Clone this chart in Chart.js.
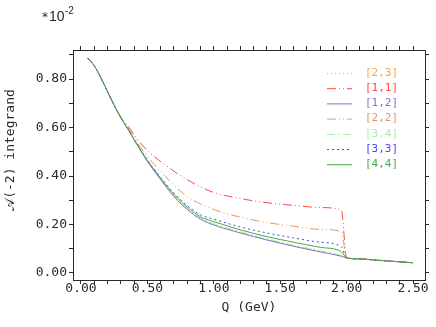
<!DOCTYPE html>
<html>
<head>
<meta charset="utf-8">
<script src="https://cdn.jsdelivr.net/npm/chart.js@4.4.1/dist/chart.umd.min.js"></script>
<style>
  html, body { margin: 0; padding: 0; background: #fff; }
  #wrap { width: 436px; height: 327px; }
</style>
</head>
<body>
<div id="wrap"><canvas id="chart"></canvas></div>
<script>
// Q (GeV) sample points
const qValues = [0.05, 0.10, 0.15, 0.20, 0.25, 0.30, 0.35, 0.40, 0.50, 0.60, 0.70, 0.80, 0.90, 1.00, 1.20, 1.40, 1.60, 1.80, 1.96, 2.00, 2.10, 2.20, 2.30, 2.40, 2.50]

// integrand values (units of 10^-2)
const s23 = [0.887, 0.855, 0.805, 0.748, 0.692, 0.640, 0.597, 0.550, 0.462, 0.388, 0.318, 0.265, 0.225, 0.201, 0.168, 0.139, 0.113, 0.090, 0.071, 0.062, 0.058, 0.054, 0.050, 0.046, 0.042]
const s11 = [0.887, 0.855, 0.805, 0.748, 0.692, 0.645, 0.610, 0.570, 0.505, 0.460, 0.420, 0.385, 0.355, 0.332, 0.307, 0.290, 0.279, 0.270, 0.260, 0.062, 0.058, 0.054, 0.050, 0.046, 0.042]
const s12 = [0.887, 0.855, 0.805, 0.748, 0.692, 0.640, 0.597, 0.550, 0.460, 0.385, 0.315, 0.262, 0.222, 0.198, 0.165, 0.136, 0.110, 0.087, 0.069, 0.062, 0.058, 0.054, 0.050, 0.046, 0.042]
const s22 = [0.887, 0.855, 0.805, 0.748, 0.692, 0.642, 0.603, 0.560, 0.480, 0.420, 0.362, 0.315, 0.285, 0.262, 0.230, 0.208, 0.193, 0.180, 0.170, 0.062, 0.058, 0.054, 0.050, 0.046, 0.042]
const s34 = [0.887, 0.855, 0.805, 0.748, 0.692, 0.640, 0.597, 0.550, 0.463, 0.390, 0.320, 0.267, 0.227, 0.203, 0.170, 0.141, 0.115, 0.092, 0.073, 0.062, 0.058, 0.054, 0.050, 0.046, 0.042]
const s33 = [0.887, 0.855, 0.805, 0.748, 0.692, 0.640, 0.598, 0.552, 0.466, 0.394, 0.330, 0.278, 0.240, 0.222, 0.190, 0.165, 0.145, 0.127, 0.108, 0.062, 0.058, 0.054, 0.050, 0.046, 0.042]
const s44 = [0.887, 0.855, 0.805, 0.748, 0.692, 0.640, 0.597, 0.551, 0.464, 0.391, 0.324, 0.272, 0.232, 0.212, 0.178, 0.150, 0.127, 0.106, 0.088, 0.062, 0.058, 0.054, 0.050, 0.046, 0.042]

const seriesLabels = ["[2,3]", "[1,1]", "[1,2]", "[2,2]", "[3,4]", "[3,3]", "[4,4]"]
const seriesValues = [s23, s11, s12, s22, s34, s33, s44]
const seriesColors = ["#ffa838", "#ff4848", "#7878c8", "#e09868", "#a8f0a8", "#4848f0", "#48a848"]
const seriesDash = [[1, 3], [9, 3, 1, 3, 1, 3], [], [9, 3, 1, 3, 1, 3], [8, 3, 2, 3], [2, 3], []]
const seriesOrder = [5, 3, 4, 2, 6, 1, 0]

const xMajorTicks = [0, 0.5, 1, 1.5, 2, 2.5]
const yMajorTicks = [0, 0.2, 0.4, 0.6, 0.8]

const ink = "#2a2a2a"
const mono = "'DejaVu Sans Mono', monospace"

const datasets = seriesLabels.map((label, i) => ({
  label,
  data: qValues.map((q, j) => ({ x: q, y: seriesValues[i][j] })),
  borderColor: seriesColors[i],
  borderDash: seriesDash[i],
  borderWidth: 1,
  pointRadius: 0,
  fill: false,
  cubicInterpolationMode: "monotone",
  order: seriesOrder[i]
}))

function stepTicks(from, to, step) {
  const out = []
  for (let v = from; v <= to + 1e-9; v += step) out.push({ value: Math.round(v * 100) / 100 })
  return out
}

const isMajor = (v, list) => list.some(m => Math.abs(m - v) < 1e-6)

const frameGrid = { drawOnChartArea: false, color: ink, tickLength: 4 }
const frameBorder = { display: true, color: ink, width: 1 }

const textPlugin = {
  id: "texts",
  afterDraw(chart) {
    const ctx = chart.ctx
    const area = chart.chartArea
    ctx.save()

    // exponent label
    ctx.fillStyle = ink
    ctx.textBaseline = "alphabetic"
    ctx.font = "12px 'DejaVu Sans'"
    ctx.fillText("*", 42, 21)
    ctx.font = "14px 'Liberation Sans'"
    ctx.fillText("10", 49, 21)
    ctx.font = "10px 'Liberation Sans'"
    ctx.fillText("-2", 65, 14)

    // axis titles
    ctx.font = "13px " + mono
    ctx.textAlign = "center"
    ctx.textBaseline = "middle"
    ctx.fillText("Q (GeV)", (area.left + area.right) / 2, 308)
    ctx.save()
    ctx.translate(11, 150)
    ctx.rotate(-Math.PI / 2)
    ctx.fillText("𝒜(-2) integrand", 0, 0)
    ctx.restore()

    // legend
    ctx.textAlign = "left"
    ctx.font = "11px " + mono
    seriesLabels.forEach((label, i) => {
      const y = 73 + i * 15.2
      ctx.strokeStyle = seriesColors[i]
      ctx.lineWidth = 1
      ctx.setLineDash(seriesDash[i])
      ctx.beginPath()
      ctx.moveTo(327, y + 0.5)
      ctx.lineTo(352, y + 0.5)
      ctx.stroke()
      ctx.fillStyle = seriesColors[i]
      ctx.fillText(label, 365, y)
    })
    ctx.restore()
  }
}

new Chart(document.getElementById("chart"), {
  type: "line",
  data: { datasets },
  options: {
    responsive: true,
    maintainAspectRatio: false,
    animation: false,
    layout: { padding: 0 },
    plugins: {
      legend: { display: false },
      tooltip: { enabled: false }
    },
    scales: {
      x: {
        type: "linear",
        position: "bottom",
        min: -0.06,
        max: 2.59,
        afterBuildTicks: s => { s.ticks = stepTicks(0, 2.5, 0.1) },
        afterFit: s => { s.height = 47 },
        ticks: {
          autoSkip: false,
          maxRotation: 0,
          padding: -3,
          color: ink,
          font: { family: mono, size: 13 },
          callback: v => isMajor(v, xMajorTicks) ? v.toFixed(2) : ""
        },
        grid: frameGrid,
        border: frameBorder
      },
      xTop: {
        type: "linear",
        axis: "x",
        position: "top",
        min: -0.06,
        max: 2.59,
        afterBuildTicks: s => { s.ticks = stepTicks(0, 2.5, 0.1) },
        afterFit: s => { s.height = 50 },
        ticks: { display: false },
        grid: frameGrid,
        border: frameBorder
      },
      y: {
        type: "linear",
        position: "left",
        min: -0.029,
        max: 0.92,
        afterBuildTicks: s => { s.ticks = stepTicks(0, 0.9, 0.1) },
        afterFit: s => { s.width = 73 },
        ticks: {
          autoSkip: false,
          padding: 2,
          color: ink,
          font: { family: mono, size: 13 },
          callback: v => isMajor(v, yMajorTicks) ? v.toFixed(2) : ""
        },
        grid: frameGrid,
        border: frameBorder
      },
      yRight: {
        type: "linear",
        axis: "y",
        position: "right",
        min: -0.029,
        max: 0.92,
        afterBuildTicks: s => { s.ticks = stepTicks(0, 0.9, 0.1) },
        afterFit: s => { s.width = 11 },
        ticks: { display: false },
        grid: frameGrid,
        border: frameBorder
      }
    }
  },
  plugins: [textPlugin]
})
</script>
</body>
</html>
